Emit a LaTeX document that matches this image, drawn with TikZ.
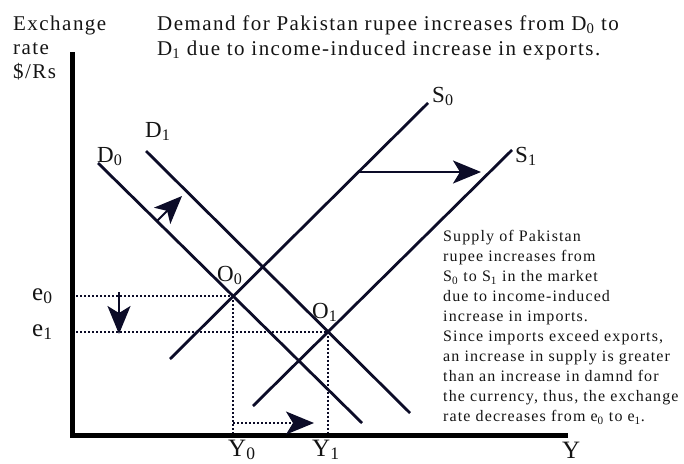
\documentclass[tikz,border=0pt]{standalone}
\usepackage{fontspec}
\setmainfont{Liberation Serif}
\newfontfamily\spacedfont[LetterSpace=7]{Liberation Serif}
\usetikzlibrary{arrows.meta,intersections,calc}
\definecolor{lc}{RGB}{12,12,40}
\definecolor{tc}{RGB}{20,20,20}
\newcommand\lsub[1]{\textsubscript{#1}}
\begin{document}
\begin{tikzpicture}[x=1pt,y=-1pt,
  curve/.style={draw=lc,line width=2.8pt},
  axisline/.style={draw=black,line width=5pt,line join=miter},
  guide/.style={draw=lc,line width=1.8pt,dash pattern=on 1.8pt off 2.2pt},
  bigtip/.style={-{Stealth[length=28pt,width=23pt,inset=7pt]}},
  shiftarrow/.style={draw=lc,line width=2pt,bigtip},
  lab/.style={inner sep=0pt,anchor=base west,text=tc,font=\fontsize{23}{23}\selectfont},
  biglab/.style={lab,font=\fontsize{25}{25}\selectfont},
  title/.style={inner sep=0pt,anchor=north west,text=tc,align=left,font=\spacedfont\fontsize{21}{25}\selectfont},
  note/.style={inner sep=0pt,anchor=north west,text=tc,align=left,font=\spacedfont\fontsize{16}{20}\selectfont}
]
\useasboundingbox (0,0) rectangle (684,463);

% texts
\node[title] (ylab) at (13,15.7) {Exchange\\[-1pt]rate\\[-1pt]\$/Rs};
\node[title] (ttl) at (157,15.7) {Demand for Pakistan rupee increases from D\lsub{0} to\\D\lsub{1} due to income-induced increase in exports.};
\node[note] (txt) at (443,230) {Supply of Pakistan\\rupee increases from\\S\lsub{0} to S\lsub{1} in the market\\due to income-induced\\increase in imports.\\Since imports exceed exports,\\an increase in supply is greater\\than an increase in damnd for\\the currency, thus, the exchange\\rate decreases from e\lsub{0} to e\lsub{1}.};

% curve end points
\coordinate (D0a) at (98,163);  \coordinate (D0b) at (362,423);
\coordinate (D1a) at (146,151); \coordinate (D1b) at (410,413);
\coordinate (S0a) at (170,359); \coordinate (S0b) at (428,103);
\coordinate (S1a) at (253,406); \coordinate (S1b) at (512,150);
\coordinate (ytop) at (72,52); \coordinate (orig) at (72,435); \coordinate (xend) at (568,435);

\path[name path=D0] (D0a) -- (D0b);
\path[name path=D1] (D1a) -- (D1b);
\path[name path=S0] (S0a) -- (S0b);
\path[name path=S1] (S1a) -- (S1b);
\path[name intersections={of=D0 and S0,by=O0}];
\path[name intersections={of=D1 and S1,by=O1}];

% dotted guides
\draw[guide] (O0 -| orig) -- (O0);
\draw[guide] (O0) -- (O0 |- orig);
\draw[guide] (O1 -| orig) -- (O1);
\draw[guide] (O1) -- (O1 |- orig);

% curves
\draw[curve] (D0a) -- (D0b);
\draw[curve] (D1a) -- (D1b);
\draw[curve] (S0a) -- (S0b);
\draw[curve] (S1a) -- (S1b);

% axes
\draw[axisline] (ytop) -- (orig) -- (xend);

% shift arrows
\coordinate (dA) at (157,221); \coordinate (dB) at (182,196);
\draw[shiftarrow] (dA) -- (dB);
\coordinate (sA) at (358,172); \coordinate (sB) at (481,172);
\draw[shiftarrow] (sA) -- (sB);
\coordinate (eA) at (119,292); \coordinate (eB) at (119,334);
\draw[shiftarrow] (eA) -- (eB);
\coordinate (yA) at ($(O0 |- orig)+(0,-12)$); \coordinate (yB) at (314,423);
\draw[guide,bigtip] (yA) -- (yB);

% labels
\node[lab] (lD0) at (97,162) {D\lsub{0}};
\node[lab] (lD1) at (145,137) {D\lsub{1}};
\node[lab] (lS0) at (432,102) {S\lsub{0}};
\node[lab] (lS1) at (515,162) {S\lsub{1}};
\node[lab] (lO0) at (217,281) {O\lsub{0}};
\node[lab] (lO1) at (312,318) {O\lsub{1}};
\node[biglab] (le0) at (32,300) {e\lsub{0}};
\node[biglab] (le1) at (32,336) {e\lsub{1}};
\node[biglab] (lY0) at (228,456) {Y\lsub{0}};
\node[biglab] (lY1) at (312,456) {Y\lsub{1}};
\node[biglab] (lY) at (562,458) {Y};
\end{tikzpicture}
\end{document}
